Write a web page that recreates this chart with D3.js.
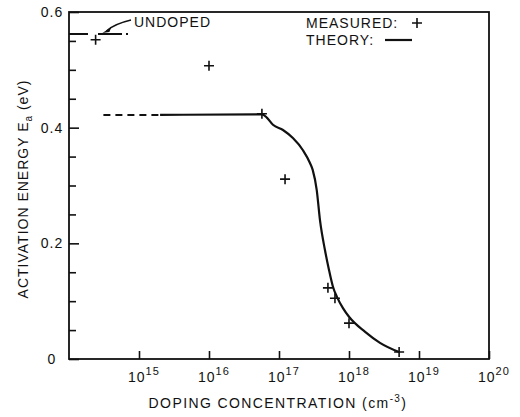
<!DOCTYPE html>
<html>
<head>
<meta charset="utf-8">
<script src="https://cdn.jsdelivr.net/npm/d3@7"></script>
<style>
  body { margin: 0; background: #fff; }
  svg text { font-family: "Liberation Sans", Arial, sans-serif; fill: #111; letter-spacing: 1px; }
</style>
</head>
<body>
<svg width="520" height="417"></svg>
<script>
// measured activation energies
var measuredN = [2.4e14, 1.0e16, 5.7e16, 1.22e17, 5.0e17, 6.3e17, 1.0e18, 5.2e18];
var measuredE = [0.552, 0.507, 0.424, 0.311, 0.123, 0.105, 0.062, 0.012];

// theory curve (dashed extrapolation, then solid)
var theoryDashN = [3.1e14, 2.0e15];
var theoryDashE = [0.422, 0.422];
var theoryN = [2.0e15, 5.7e16, 6.75e16, 8.2e16, 1.14e17, 1.58e17, 2.2e17, 2.77e17, 3.03e17, 3.46e17, 3.85e17, 4.54e17, 5.18e17, 5.9e17, 6.75e17, 8.2e17, 1.0e18, 1.7e18, 2.77e18, 5.2e18];
var theoryE = [0.422, 0.423, 0.417, 0.405, 0.396, 0.382, 0.361, 0.339, 0.327, 0.292, 0.240, 0.188, 0.154, 0.125, 0.107, 0.088, 0.073, 0.047, 0.028, 0.012];

// undoped level
var undopedN = [1e14, 7e14];
var undopedE = 0.562;

var xTicks = [1e15, 1e16, 1e17, 1e18, 1e19, 1e20];
var xExponents = ["15", "16", "17", "18", "19", "20"];
var yMajor = [0, 0.2, 0.4, 0.6];
var yLabels = ["0", "0.2", "0.4", "0.6"];
var yMinor = [0.05, 0.1, 0.15, 0.25, 0.3, 0.35, 0.45, 0.5, 0.55];

var svg = d3.select("svg");
var pLeft = 69, pRight = 489, pTop = 12, pBottom = 359;

var x = d3.scaleLog().domain([1e14, 1e20]).range([pLeft, pRight]);
var y = d3.scaleLinear().domain([0, 0.6]).range([pBottom, pTop]);

// axes (ticks pointing inward)
var xAxis = svg.append("g")
    .attr("transform", "translate(0," + pBottom + ")")
    .call(d3.axisBottom(x).tickValues(xTicks).tickSize(-8).tickFormat(""));
var yAxisMajor = svg.append("g")
    .attr("transform", "translate(" + pLeft + ",0)")
    .call(d3.axisLeft(y).tickValues(yMajor).tickSize(-10).tickFormat(""));
var yAxisMinor = svg.append("g")
    .attr("transform", "translate(" + pLeft + ",0)")
    .call(d3.axisLeft(y).tickValues(yMinor).tickSize(-7).tickFormat(""));
[xAxis, yAxisMajor, yAxisMinor].forEach(function (g) {
    g.select(".domain").remove();
    g.selectAll("line").attr("stroke", "#111").attr("stroke-width", 1.6);
});

// frame
svg.append("rect")
    .attr("x", pLeft).attr("y", pTop)
    .attr("width", pRight - pLeft).attr("height", pBottom - pTop)
    .attr("fill", "none").attr("stroke", "#111").attr("stroke-width", 1.8);

// x tick labels 10^n
var xl = svg.selectAll(".xlab")
    .data(xTicks)
    .enter().append("text")
    .attr("class", "xlab")
    .attr("x", function (d) { return x(d) - 11; })
    .attr("y", 382)
    .attr("font-size", 14);
xl.append("tspan").text("10");
xl.append("tspan")
    .attr("font-size", 11)
    .attr("dy", -7)
    .text(function (d, i) { return xExponents[i]; });

// y tick labels
svg.selectAll(".ylab")
    .data(yMajor)
    .enter().append("text")
    .attr("class", "ylab")
    .attr("x", 52)
    .attr("y", function (d) { return y(d) + 5; })
    .attr("text-anchor", "middle")
    .attr("font-size", 14)
    .text(function (d, i) { return yLabels[i]; });

// axis titles
var xt = svg.append("text")
    .attr("x", 278).attr("y", 408)
    .attr("text-anchor", "middle")
    .attr("font-size", 14)
    .style("letter-spacing", "1.4px");
xt.append("tspan").text("DOPING CONCENTRATION (cm");
xt.append("tspan").attr("font-size", 10).attr("dy", -6).text("-3");
xt.append("tspan").attr("dy", 6).text(")");

var yt = svg.append("text")
    .attr("transform", "translate(28,189) rotate(-90)")
    .attr("text-anchor", "middle")
    .attr("font-size", 14);
yt.append("tspan").text("ACTIVATION ENERGY E");
yt.append("tspan").attr("font-size", 10).attr("dy", 4).text("a");
yt.append("tspan").attr("dy", -4).text(" (eV)");

// theory curve
var line = d3.line()
    .x(function (d) { return x(d[0]); })
    .y(function (d) { return y(d[1]); })
    .curve(d3.curveMonotoneX);

svg.append("path")
    .datum(theoryDashN.map(function (n, i) { return [n, theoryDashE[i]]; }))
    .attr("d", line)
    .attr("fill", "none").attr("stroke", "#111").attr("stroke-width", 2)
    .attr("stroke-dasharray", "7,5");

svg.append("path")
    .datum(theoryN.map(function (n, i) { return [n, theoryE[i]]; }))
    .attr("d", line)
    .attr("fill", "none").attr("stroke", "#111").attr("stroke-width", 2.2);

// undoped level line
svg.append("line")
    .attr("x1", x(undopedN[0])).attr("x2", x(undopedN[1]))
    .attr("y1", y(undopedE)).attr("y2", y(undopedE))
    .attr("stroke", "#111").attr("stroke-width", 1.8)
    .attr("stroke-dasharray", "19,10,24,4,2,100");

// measured points as plus signs
svg.selectAll(".pt")
    .data(measuredN)
    .enter().append("path")
    .attr("class", "pt")
    .attr("d", function (d, i) {
        var cx = x(d), cy = y(measuredE[i]);
        return "M" + (cx - 5) + "," + cy + "H" + (cx + 5) + "M" + cx + "," + (cy - 5) + "V" + (cy + 5);
    })
    .attr("stroke", "#111").attr("stroke-width", 1.6);

// undoped annotation with arrow
var tipX = x(3.0e14), tipY = y(undopedE) - 1;
svg.append("path")
    .attr("d", "M131,20 Q114,24 " + (tipX + 4) + "," + (tipY - 2))
    .attr("fill", "none").attr("stroke", "#111").attr("stroke-width", 1.4);
svg.append("path")
    .attr("d", "M" + tipX + "," + tipY + "L" + (tipX + 9) + "," + (tipY - 6) + "L" + (tipX + 7) + "," + (tipY - 1) + "Z")
    .attr("fill", "#111");
svg.append("text")
    .attr("x", 134).attr("y", 27)
    .attr("font-size", 14)
    .text("UNDOPED");

// legend
svg.append("text").attr("x", 306).attr("y", 28).attr("font-size", 14).text("MEASURED:");
svg.append("path")
    .attr("d", "M412,23H422M417,18V28")
    .attr("stroke", "#111").attr("stroke-width", 1.6);
svg.append("text").attr("x", 306).attr("y", 45).attr("font-size", 14).text("THEORY:");
svg.append("line")
    .attr("x1", 385).attr("x2", 412).attr("y1", 40).attr("y2", 40)
    .attr("stroke", "#111").attr("stroke-width", 2.2);
</script>
</body>
</html>
